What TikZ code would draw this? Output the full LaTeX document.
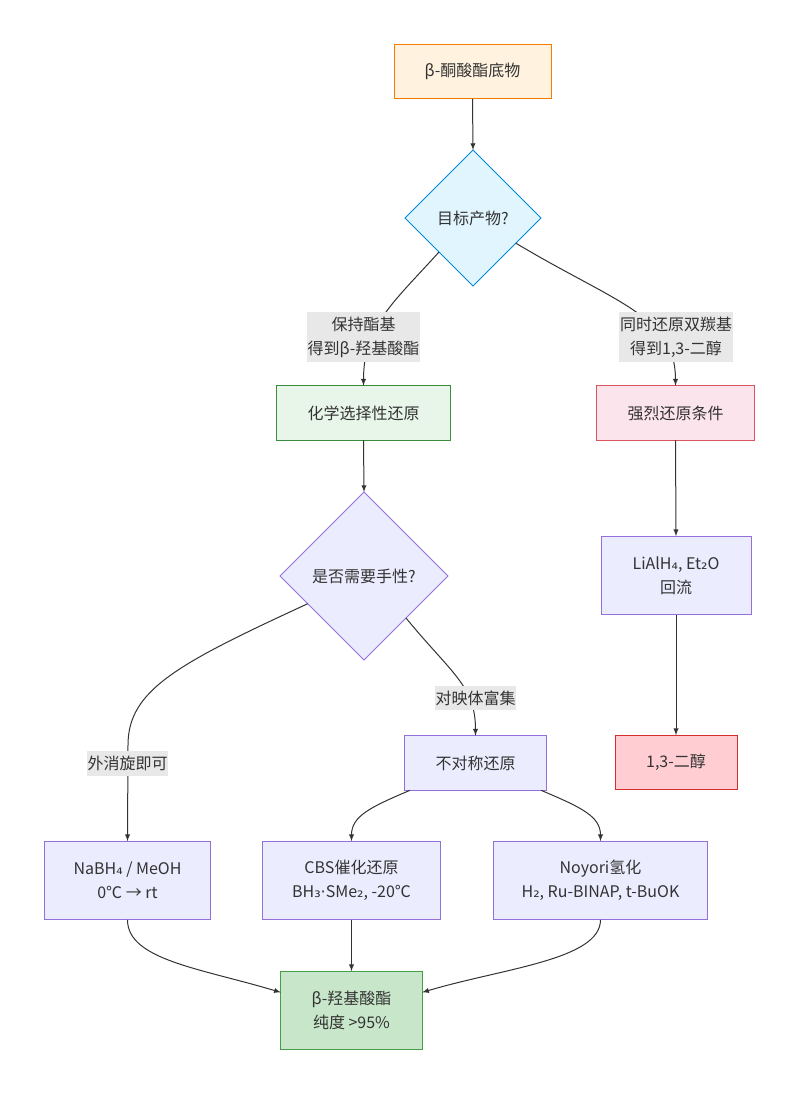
\documentclass[tikz,border=0pt]{standalone}
\usepackage{fontspec}
\setmainfont{Noto Sans CJK SC}
\newfontfamily\dvsfont{DejaVu Sans}
\newcommand{\dvs}[1]{{\dvsfont #1}}
\usepackage{xcolor}
\usepackage{tikz}
\usetikzlibrary{arrows,shapes.geometric,calc}

\definecolor{txt}{HTML}{333333}
\definecolor{defFill}{HTML}{ECECFF}
\definecolor{defLine}{HTML}{9370DB}
\definecolor{startFill}{HTML}{FFF3E0}
\definecolor{startLine}{HTML}{F57C00}
\definecolor{askFill}{HTML}{E1F5FE}
\definecolor{askLine}{HTML}{0288D1}
\definecolor{selFill}{HTML}{E8F5E9}
\definecolor{selLine}{HTML}{388E3C}
\definecolor{hardFill}{HTML}{FCE4EC}
\definecolor{hardLine}{HTML}{D9545E}
\definecolor{diolFill}{HTML}{FFCDD2}
\definecolor{diolLine}{HTML}{D32F2F}
\definecolor{prodFill}{HTML}{C8E6C9}
\definecolor{prodLine}{HTML}{43A047}
\definecolor{lblFill}{HTML}{E8E8E8}

\begin{document}
\begin{tikzpicture}[x=0.75pt, y=-0.75pt,
		every node/.style={font=\fontsize{12}{18}\selectfont, text=txt, align=center, outer sep=0pt},
		procbox/.style={draw=defLine, fill=defFill, line width=0.75pt, minimum height=41pt},
		twoline/.style={procbox, minimum height=59pt},
		decide/.style={diamond, draw=defLine, fill=defFill, line width=0.75pt, inner sep=0pt},
		elabel/.style={fill=lblFill, inner xsep=0.5pt, inner ysep=3.5pt},
		arr/.style={-latex, draw=txt, line width=0.75pt}]
			%\draw[help lines] (0,0) grid (800,1095);
			\useasboundingbox (0,0) rectangle (800,1095);

			\node[procbox, fill=startFill, draw=startLine, minimum width=117.75pt] (start) at (472.5,71.5) {β-酮酸酯底物};
			\node[decide, fill=askFill, draw=askLine, minimum size=102pt] (ask) at (473,218) {目标产物?};
			\node[procbox, fill=selFill, draw=selLine, minimum width=131pt] (chem) at (363.5,413) {化学选择性还原};
			\node[procbox, fill=hardFill, draw=hardLine, minimum width=119pt] (hard) at (675.5,413) {强烈还原条件};
			\node[decide, minimum size=126pt] (chiral) at (364,576) {是否需要手性?};
			\node[twoline, minimum width=112.5pt] (lah) at (676,575.5) {LiAlH\dvs{₄}, Et\dvs{₂}O\\回流};
			\node[procbox, fill=diolFill, draw=diolLine, minimum width=91.5pt] (diol) at (676,762.5) {1,3-二醇};
			\node[procbox, minimum width=107pt] (asym) at (475.5,763) {不对称还原};
			\node[twoline, minimum width=125pt] (nabh) at (127.5,880.5) {NaBH\dvs{₄} / MeOH\\0℃ → rt};
			\node[twoline, minimum width=134pt] (cbs) at (351.5,880.5) {CBS催化还原\\BH\dvs{₃·}SMe\dvs{₂}, -20℃};
			\node[twoline, minimum width=161pt] (noyori) at (600.5,880.5) {Noyori氢化\\H\dvs{₂}, Ru-BINAP, t-BuOK};
			\node[twoline, fill=prodFill, draw=prodLine, minimum width=106pt] (prod) at (351.5,1010.5) {β-羟基酸酯\\纯度 >95\%};

			\draw[arr] (start.south) -- (ask.north);
			\draw[arr] (ask.south west) .. controls +(-45,50) and +(0,-60) .. (chem.north);
			\draw[arr] ($(ask.east)!0.37!(ask.south)$) .. controls +(100,60) and +(0,-70) .. (hard.north);
			\draw[arr] (chem.south) -- (chiral.north);
			\draw[arr] (hard.south) -- (lah.north);
			\draw[arr] (lah.south) -- (diol.north);
			\draw[arr] ($(chiral.west)!0.33!(chiral.south)$) .. controls +(-130,60) and (128,690) .. (128,745) -- (nabh.north);
			\draw[arr] (chiral.south east) .. controls +(45,55) and +(0,-50) .. (asym.north);
			\draw[arr] ($(asym.south west)!0.04!(asym.south east)$) .. controls +(-40,17) and +(0,-25) .. (cbs.north);
			\draw[arr] ($(asym.south west)!0.96!(asym.south east)$) .. controls +(40,17) and +(0,-25) .. (noyori.north);
			\draw[arr] (nabh.south) .. controls +(0,40) and +(-80,-24) .. ($(prod.north west)!0.27!(prod.south west)$);
			\draw[arr] (cbs.south) -- (prod.north);
			\draw[arr] (noyori.south) .. controls +(0,40) and +(80,-24) .. ($(prod.north east)!0.27!(prod.south east)$);

			% edge labels on top of the lines
			\node[elabel] (keep) at (363.5,337) {保持酯基\\得到β-羟基酸酯};
			\node[elabel] (both) at (676,337) {同时还原双羰基\\得到1,3-二醇};
			\node[elabel] (rac) at (127.5,763.5) {外消旋即可};
			\node[elabel] (ee) at (475.5,698) {对映体富集};
		\end{tikzpicture}
\end{document}
